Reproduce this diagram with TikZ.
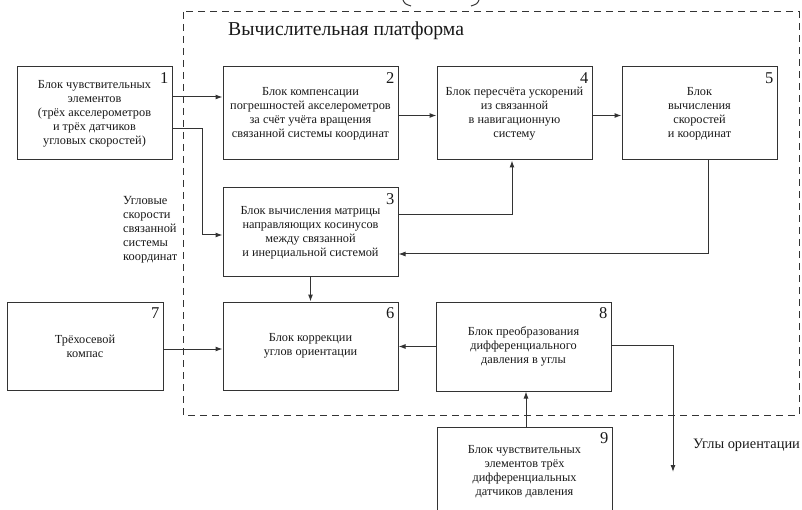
\documentclass[tikz,border=0pt]{standalone}
\usepackage{fontspec}
\setmainfont{Liberation Serif}
\usetikzlibrary{arrows.meta}
\tikzset{
  blok/.style={draw=black!80, line width=1pt, align=center, text=black!90,
    font=\fontsize{12.3}{14}\selectfont, inner sep=2pt},
  arr/.style={draw=black!80, line width=1pt, -{Latex[length=7pt,width=5pt]}},
  num/.style={anchor=north east, inner sep=0pt, text=black!90,
    font=\fontsize{16.5}{16}\selectfont}
}
\begin{document}
\begin{tikzpicture}[x=1pt,y=-1pt]
\clip (0,0) rectangle (802,510);
% platform border
\draw[black!80, line width=1pt, dash pattern=on 7pt off 5pt] (183,12) rectangle (799,415);
\node[anchor=west, inner sep=0pt, text=black!90, font=\fontsize{19.7}{20}\selectfont] (title) at (228,31) {Вычислительная платформа};
\draw[black!80, line width=1pt] (403,0) .. controls (405,4) .. (411,6);
\draw[black!80, line width=1pt] (479,0) .. controls (477,4) .. (471,6);
% blocks
\node[blok, minimum width=155pt, minimum height=93pt] (b1) at (94.5,113.5) {Блок чувствительных\\элементов\\(трёх акселерометров\\и трёх датчиков\\угловых скоростей)};
\node[blok, minimum width=175pt, minimum height=93pt] (b2) at (310.5,113.5) {Блок компенсации\\погрешностей акселерометров\\за счёт учёта вращения\\связанной системы координат};
\node[blok, minimum width=175pt, minimum height=89pt] (b3) at (310.5,232.5) {Блок вычисления матрицы\\направляющих косинусов\\между связанной\\и инерциальной системой};
\node[blok, minimum width=155pt, minimum height=93pt] (b4) at (514.5,113.5) {Блок пересчёта ускорений\\из связанной\\в навигационную\\систему};
\node[blok, minimum width=155pt, minimum height=93pt] (b5) at (699.5,113.5) {Блок\\вычисления\\скоростей\\и координат};
\node[blok, minimum width=175pt, minimum height=88pt] (b6) at (310.5,346) {Блок коррекции\\углов ориентации};
\node[blok, minimum width=156pt, minimum height=88pt] (b7) at (85,346) {Трёхосевой\\компас};
\node[blok, minimum width=175pt, minimum height=89pt] (b8) at (523.5,346.5) {Блок преобразования\\дифференциального\\давления в углы};
\node[blok, minimum width=175pt, minimum height=90pt] (b9) at (524.5,472) {Блок чувствительных\\элементов трёх\\дифференциальных\\датчиков давления};
\foreach \n in {1,...,9}
  \node[num] (n\n) at ([xshift=-4pt,yshift=-6pt]b\n.north east) {\n};
% side labels
\node[anchor=north west, align=left, inner sep=0pt, text=black!90, font=\fontsize{12.4}{14}\selectfont] (wlab) at (123,196) {Угловые\\скорости\\связанной\\системы\\координат};
\coordinate (out) at (673,472);
\node[anchor=west, inner sep=0pt, text=black!90, font=\fontsize{14.4}{15}\selectfont] (olab) at (693,445) {Углы ориентации};
% connections
\draw[arr] ([yshift=16.5pt]b1.east) -- ([yshift=16.5pt]b2.west);
\draw[arr] ([yshift=-15pt]b1.east) -- ++(30,0) |- ([yshift=-2.5pt]b3.west);
\draw[arr] ([yshift=-2pt]b2.east) -- ([yshift=-2pt]b4.west);
\draw[arr] ([yshift=-2pt]b4.east) -- ([yshift=-2pt]b5.west);
\draw[arr] ([yshift=17.5pt]b3.east) -| ([xshift=-2.5pt]b4.south);
\draw[arr] ([xshift=8.5pt]b5.south) |- ([yshift=-21.5pt]b3.east);
\draw[arr] (b3.south) -- (b6.north);
\draw[arr] ([yshift=-3pt]b7.east) -- ([yshift=-3pt]b6.west);
\draw[arr] (b8.west) -- (b6.east |- b8.west);
\draw[arr] ([xshift=1.5pt]b9.north) -- ([xshift=1.5pt]b9.north |- b8.south);
\draw[arr] ([yshift=1.5pt]b8.east) -| (out);
\end{tikzpicture}
\end{document}
